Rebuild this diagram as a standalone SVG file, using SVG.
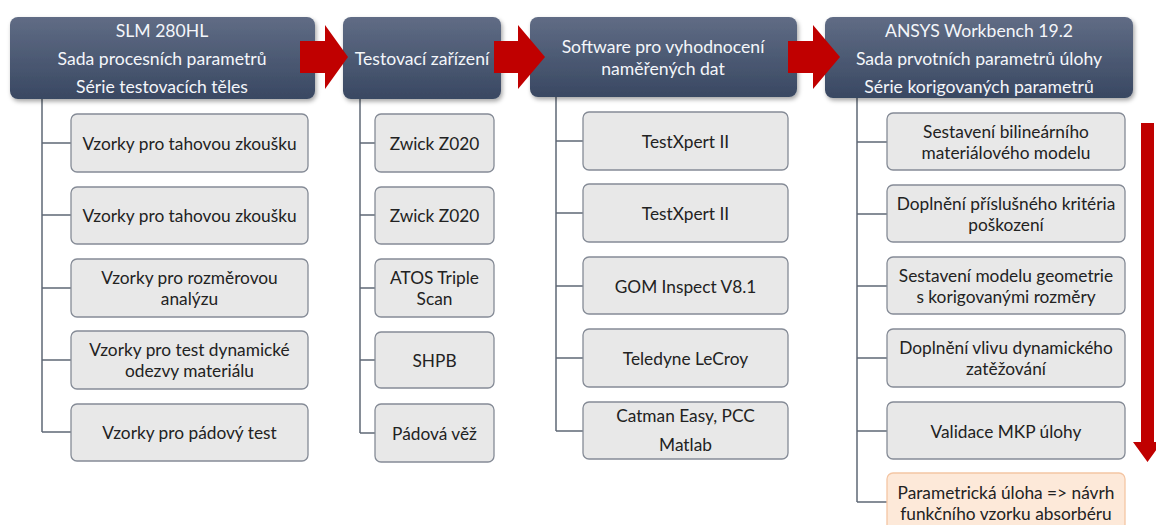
<svg xmlns="http://www.w3.org/2000/svg" width="1156" height="525" viewBox="0 0 1156 525">
<defs>
<linearGradient id="hg" x1="0" y1="0" x2="0" y2="1">
<stop offset="0" stop-color="#606c85"/>
<stop offset="1" stop-color="#394862"/>
</linearGradient>
<filter id="sh" x="-5%" y="-10%" width="112%" height="130%">
<feDropShadow dx="1.5" dy="2.5" stdDeviation="2" flood-color="#000" flood-opacity="0.35"/>
</filter>
<style>
.hd{fill:url(#hg);filter:url(#sh)}
.ht{fill:#f4f6fa;font-family:Lato,"Open Sans",sans-serif;font-size:17.6px;text-anchor:middle;dominant-baseline:central}
.cb{fill:#e8e8e8;stroke:#858b96;stroke-width:1.3}
.ob{fill:#fde9d9;stroke:#f4c6a4;stroke-width:1.3}
.ct{fill:#222222;font-family:Lato,"Open Sans",sans-serif;font-size:17.3px;text-anchor:middle;dominant-baseline:central}
.ln{fill:none;stroke:#5f6876;stroke-width:1.5}
.ar{fill:#c00000}
</style>
</defs>
<rect width="1156" height="525" fill="#ffffff"/>

<g id="connectors">
<path class="ln" d="M42 99V432M42 143H71M42 215H71M42 288H71M42 360H71M42 432H71"/>
<path class="ln" d="M360 99V433M360 143H375M360 215H375M360 288H375M360 360H375M360 433H375"/>
<path class="ln" d="M556 97V431M556 141H583M556 213H583M556 286H583M556 358H583M556 431H583"/>
<path class="ln" d="M857 98V502M857 142H887M857 214H887M857 286H887M857 358H887M857 431H887M857 502H887"/>
</g>

<g id="h1"><rect class="hd" x="10" y="17" width="305" height="82" rx="8"/>
<text class="ht" x="162" y="30">SLM 280HL</text>
<text class="ht" x="162" y="58">Sada procesních parametrů</text>
<text class="ht" x="162" y="86">Série testovacích těles</text></g>
<g id="h2"><rect class="hd" x="343" y="17" width="158" height="82" rx="8"/>
<text class="ht" x="422" y="58">Testovací zařízení</text></g>
<g id="h3"><rect class="hd" x="530" y="17" width="267" height="80" rx="8"/>
<text class="ht" x="663" y="46">Software pro vyhodnocení</text>
<text class="ht" x="663" y="68">naměřených dat</text></g>
<g id="h4"><rect class="hd" x="825" y="17" width="308" height="81" rx="8"/>
<text class="ht" x="979" y="30">ANSYS Workbench 19.2</text>
<text class="ht" x="979" y="58">Sada prvotních parametrů úlohy</text>
<text class="ht" x="979" y="86">Série korigovaných parametrů</text></g>

<g id="arrows">
<polygon class="ar" points="300,41 325,41 325,25 348,57 325,89 325,73 300,73"/>
<polygon class="ar" points="494,41 518,41 518,25 545,57 518,89 518,73 494,73"/>
<polygon class="ar" points="788,41 813,41 813,25 840,57 813,89 813,73 788,73"/>
<polygon class="ar" points="1141,123 1154,123 1154,442 1162,442 1147.5,462 1133,442 1141,442"/>
</g>

<g id="c1a"><rect class="cb" x="71" y="114" width="237" height="58" rx="6"/><text class="ct" x="189.5" y="143">Vzorky pro tahovou zkoušku</text></g>
<g id="c1b"><rect class="cb" x="71" y="187" width="237" height="57" rx="6"/><text class="ct" x="189.5" y="215">Vzorky pro tahovou zkoušku</text></g>
<g id="c1c"><rect class="cb" x="71" y="259" width="237" height="58" rx="6"/><text class="ct" x="189.5" y="277">Vzorky pro rozměrovou</text><text class="ct" x="189.5" y="298">analýzu</text></g>
<g id="c1d"><rect class="cb" x="71" y="331" width="237" height="58" rx="6"/><text class="ct" x="189.5" y="349">Vzorky pro test dynamické</text><text class="ct" x="189.5" y="370">odezvy materiálu</text></g>
<g id="c1e"><rect class="cb" x="71" y="404" width="237" height="57" rx="6"/><text class="ct" x="189.5" y="432">Vzorky pro pádový test</text></g>

<g id="c2a"><rect class="cb" x="375" y="114" width="119" height="58" rx="6"/><text class="ct" x="434.5" y="143">Zwick Z020</text></g>
<g id="c2b"><rect class="cb" x="375" y="187" width="119" height="57" rx="6"/><text class="ct" x="434.5" y="215">Zwick Z020</text></g>
<g id="c2c"><rect class="cb" x="375" y="259" width="119" height="58" rx="6"/><text class="ct" x="434.5" y="277">ATOS Triple</text><text class="ct" x="434.5" y="298">Scan</text></g>
<g id="c2d"><rect class="cb" x="375" y="332" width="119" height="56" rx="6"/><text class="ct" x="434.5" y="360">SHPB</text></g>
<g id="c2e"><rect class="cb" x="375" y="404" width="119" height="58" rx="6"/><text class="ct" x="434.5" y="433">Pádová věž</text></g>

<g id="c3a"><rect class="cb" x="583" y="112" width="205" height="58" rx="6"/><text class="ct" x="685.5" y="141">TestXpert II</text></g>
<g id="c3b"><rect class="cb" x="583" y="184" width="205" height="58" rx="6"/><text class="ct" x="685.5" y="213">TestXpert II</text></g>
<g id="c3c"><rect class="cb" x="583" y="257" width="205" height="57" rx="6"/><text class="ct" x="685.5" y="286">GOM Inspect V8.1</text></g>
<g id="c3d"><rect class="cb" x="583" y="329" width="205" height="58" rx="6"/><text class="ct" x="685.5" y="358">Teledyne LeCroy</text></g>
<g id="c3e"><rect class="cb" x="583" y="402" width="205" height="57" rx="6"/><text class="ct" x="685.5" y="415">Catman Easy, PCC</text><text class="ct" x="685.5" y="444">Matlab</text></g>

<g id="c4a"><rect class="cb" x="887" y="113" width="238" height="57" rx="6"/><text class="ct" x="1006" y="131">Sestavení bilineárního</text><text class="ct" x="1006" y="152">materiálového modelu</text></g>
<g id="c4b"><rect class="cb" x="887" y="185" width="238" height="57" rx="6"/><text class="ct" x="1006" y="203">Doplnění příslušného kritéria</text><text class="ct" x="1006" y="224">poškození</text></g>
<g id="c4c"><rect class="cb" x="887" y="257" width="238" height="57" rx="6"/><text class="ct" x="1006" y="275">Sestavení modelu geometrie</text><text class="ct" x="1006" y="296">s korigovanými rozměry</text></g>
<g id="c4d"><rect class="cb" x="887" y="329" width="238" height="58" rx="6"/><text class="ct" x="1006" y="347">Doplnění vlivu dynamického</text><text class="ct" x="1006" y="368">zatěžování</text></g>
<g id="c4e"><rect class="cb" x="887" y="402" width="238" height="57" rx="6"/><text class="ct" x="1006" y="431">Validace MKP úlohy</text></g>
<g id="c4f"><rect class="ob" x="887" y="473" width="238" height="60" rx="6"/><text class="ct" x="1006" y="492">Parametrická úloha =&gt; návrh</text><text class="ct" x="1006" y="513">funkčního vzorku absorbéru</text></g>
</svg>
